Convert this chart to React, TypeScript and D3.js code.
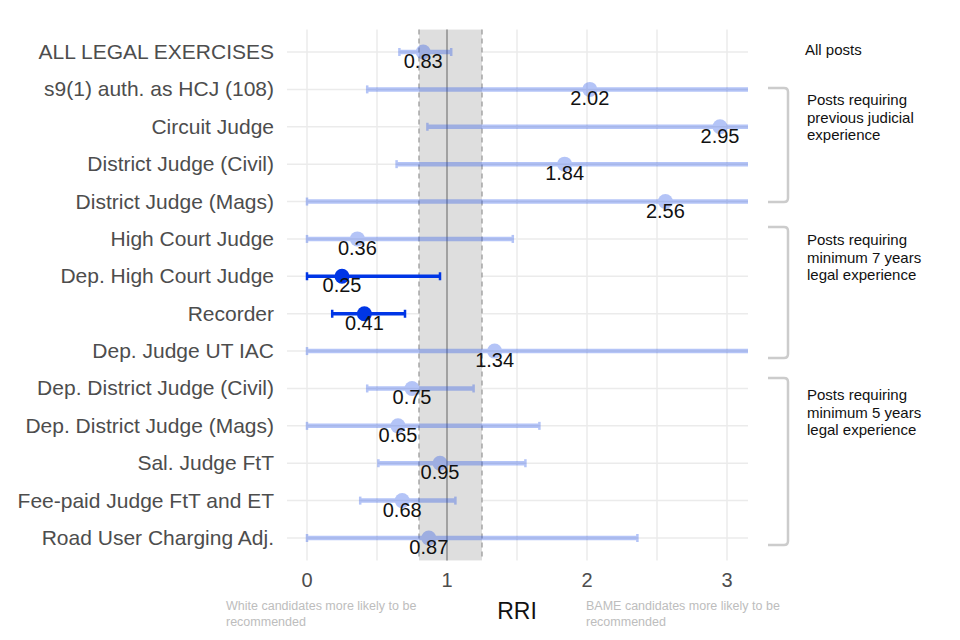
import * as d3 from "d3";
import { useEffect, useRef } from "react";

const categories = [
  "ALL LEGAL EXERCISES",
  "s9(1) auth. as HCJ (108)",
  "Circuit Judge",
  "District Judge (Civil)",
  "District Judge (Mags)",
  "High Court Judge",
  "Dep. High Court Judge",
  "Recorder",
  "Dep. Judge UT IAC",
  "Dep. District Judge (Civil)",
  "Dep. District Judge (Mags)",
  "Sal. Judge FtT",
  "Fee-paid Judge FtT and ET",
  "Road User Charging Adj.",
];
const rri = [0.83, 2.02, 2.95, 1.84, 2.56, 0.36, 0.25, 0.41, 1.34, 0.75, 0.65, 0.95, 0.68, 0.87];
const lower = [0.66, 0.43, 0.86, 0.64, 0, 0, 0, 0.18, 0, 0.43, 0, 0.51, 0.38, 0];
const upper = [1.03, 4.5, 4.5, 4.5, 4.5, 1.47, 0.95, 0.7, 4.5, 1.19, 1.66, 1.56, 1.06, 2.36];
const significant = [false, false, false, false, false, false, true, true, false, false, false, false, false, false];
const xTicks = [0, 1, 2, 3];
const groupLabels = [
  ["Posts requiring", "previous judicial", "experience"],
  ["Posts requiring", "minimum 7 years", "legal experience"],
  ["Posts requiring", "minimum 5 years", "legal experience"],
];

// bracket layout (pixels): top, bottom, first text baseline
const bracketLayout = [
  { top: 88, bot: 202, text: 105 },
  { top: 227, bot: 358, text: 245 },
  { top: 378, bot: 545, text: 400 },
];

const W = 960, H = 640;
const FONT = "'Liberation Sans', Arial, sans-serif";

export default function App() {
  const ref = useRef<SVGSVGElement | null>(null);

  useEffect(() => {
    const svg = d3.select(ref.current);
    svg.selectAll("*").remove();

    const x = d3.scaleLinear().domain([0, 3]).range([307, 727]);
    const y = d3.scalePoint<string>().domain(categories).range([52, 538]);
    const step = y.step();
    const panel = { x0: x(-0.143), x1: x(3.15), y0: 52 - 0.6 * step, y1: 538 + 0.6 * step };

    const light = "#1f4fe8";
    const dark = "#0036e6";

    // grid
    const g = svg.append("g");
    g.selectAll("line.vg")
      .data(d3.range(0, 3.5, 0.5))
      .join("line")
      .attr("x1", d => x(d)).attr("x2", d => x(d))
      .attr("y1", panel.y0).attr("y2", panel.y1)
      .attr("stroke", "#ebebeb").attr("stroke-width", 1.5);
    g.selectAll("line.hg")
      .data(categories)
      .join("line")
      .attr("x1", panel.x0).attr("x2", panel.x1)
      .attr("y1", d => y(d)!).attr("y2", d => y(d)!)
      .attr("stroke", "#ebebeb").attr("stroke-width", 1.5);

    // band around RRI = 1
    g.append("rect")
      .attr("x", x(0.8)).attr("width", x(1.25) - x(0.8))
      .attr("y", panel.y0).attr("height", panel.y1 - panel.y0)
      .attr("fill", "#dedede");
    [0.8, 1.25].forEach(v => {
      g.append("line")
        .attr("x1", x(v)).attr("x2", x(v)).attr("y1", panel.y0).attr("y2", panel.y1)
        .attr("stroke", "#9a9a9a").attr("stroke-width", 1.3).attr("stroke-dasharray", "5,4");
    });
    g.append("line")
      .attr("x1", x(1)).attr("x2", x(1)).attr("y1", panel.y0).attr("y2", panel.y1)
      .attr("stroke", "#8c8c8c").attr("stroke-width", 1.5);

    svg.append("clipPath").attr("id", "panel")
      .append("rect")
      .attr("x", panel.x0).attr("y", panel.y0)
      .attr("width", panel.x1 - panel.x0).attr("height", panel.y1 - panel.y0);

    const marks = svg.append("g").attr("clip-path", "url(#panel)");
    categories.forEach((c, i) => {
      const cy = y(c)!;
      const sig = significant[i];
      const col = sig ? dark : light;
      const row = marks.append("g").attr("opacity", sig ? 1 : 0.33);
      row.append("line")
        .attr("x1", x(lower[i])).attr("x2", x(upper[i]))
        .attr("y1", cy).attr("y2", cy)
        .attr("stroke", col).attr("stroke-width", sig ? 3.5 : 4.5);
      [lower[i], upper[i]].forEach(v => {
        row.append("line")
          .attr("x1", x(v)).attr("x2", x(v))
          .attr("y1", cy - 4).attr("y2", cy + 4)
          .attr("stroke", col).attr("stroke-width", 2.5);
      });
      row.append("circle")
        .attr("cx", x(rri[i])).attr("cy", cy).attr("r", 7.5)
        .attr("fill", col);
    });

    // value labels
    svg.append("g")
      .selectAll("text")
      .data(categories)
      .join("text")
      .attr("x", (_, i) => x(rri[i]))
      .attr("y", d => y(d)! + 16)
      .attr("text-anchor", "middle")
      .attr("font-family", FONT).attr("font-size", 20).attr("fill", "#111")
      .text((_, i) => rri[i].toFixed(2));

    // category labels
    svg.append("g")
      .selectAll("text")
      .data(categories)
      .join("text")
      .attr("x", 274)
      .attr("y", d => y(d)! + 7)
      .attr("text-anchor", "end")
      .attr("font-family", FONT).attr("font-size", 21).attr("fill", "#4d4d4d")
      .text(d => d);

    // x ticks
    svg.append("g")
      .selectAll("text")
      .data(xTicks)
      .join("text")
      .attr("x", d => x(d)).attr("y", 587)
      .attr("text-anchor", "middle")
      .attr("font-family", FONT).attr("font-size", 20).attr("fill", "#4d4d4d")
      .text(d => d3.format("d")(d));

    svg.append("text")
      .attr("x", 517).attr("y", 619)
      .attr("text-anchor", "middle")
      .attr("font-family", FONT).attr("font-size", 23).attr("fill", "#111")
      .text("RRI");

    const note = (tx: number, lines: string[]) => {
      const t = svg.append("text")
        .attr("font-family", FONT).attr("font-size", 12.5).attr("fill", "#bdbdbd");
      lines.forEach((l, k) => t.append("tspan").attr("x", tx).attr("y", 610 + k * 16).text(l));
    };
    note(226, ["White candidates more likely to be", "recommended"]);
    note(586, ["BAME candidates more likely to be", "recommended"]);

    // right-hand annotations
    svg.append("text")
      .attr("x", 805).attr("y", 55)
      .attr("font-family", FONT).attr("font-size", 15).attr("fill", "#111")
      .text("All posts");

    groupLabels.forEach((lines, gi) => {
      const { top, bot, text } = bracketLayout[gi];
      const xl = 768, xr = 788, r = 4;
      svg.append("path")
        .attr("d", `M${xl},${top} H${xr - r} Q${xr},${top} ${xr},${top + r} V${bot - r} Q${xr},${bot} ${xr - r},${bot} H${xl}`)
        .attr("fill", "none").attr("stroke", "#cccccc").attr("stroke-width", 2.5);
      const t = svg.append("text")
        .attr("font-family", FONT).attr("font-size", 15).attr("fill", "#111");
      lines.forEach((l, k) =>
        t.append("tspan").attr("x", 807).attr("y", text + k * 17.5).text(l));
    });
  }, []);

  return (
    <svg
      ref={ref}
      width={W}
      height={H}
      style={{ position: "absolute", left: 0, top: 0, background: "#fff" }}
    />
  );
}
